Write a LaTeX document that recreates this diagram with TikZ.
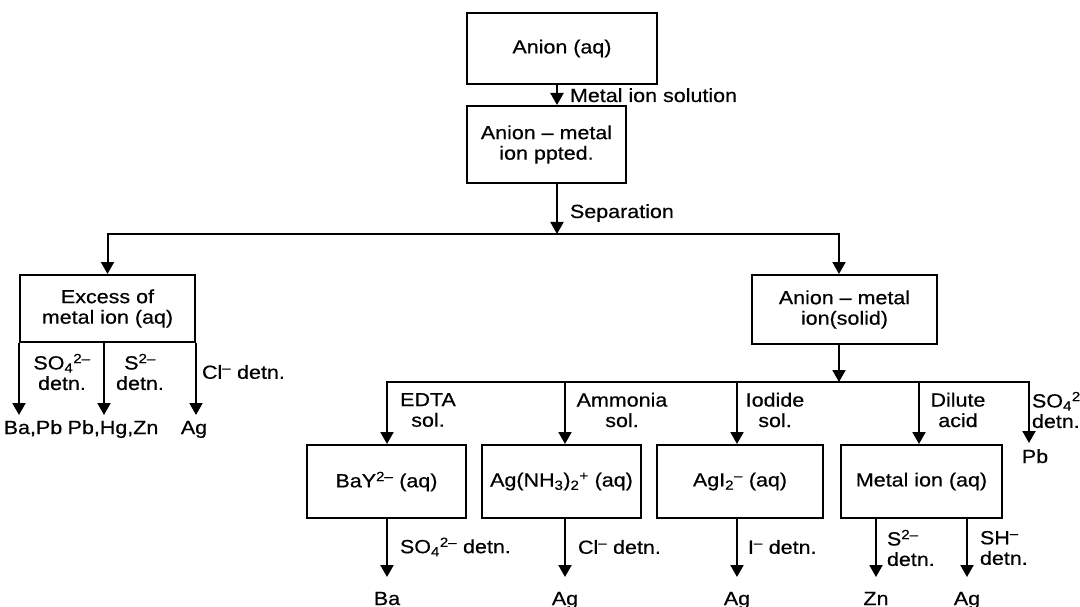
\documentclass[tikz,border=0pt]{standalone}
\usepackage{fontspec}
\setmainfont{Liberation Sans}[FakeStretch=1.13,FakeBold=0.5]
\usetikzlibrary{arrows.meta}
\newcommand{\lblfont}{\fontsize{19}{20.5}\selectfont}
\newcommand{\mn}{\textendash}
\begin{document}
\begin{tikzpicture}[x=1pt,y=-1pt,
  line/.style={line width=2pt,line cap=rect},
  arr/.style={line width=2pt,-{Triangle[width=13pt,length=12pt]}},
  box/.style={draw,line width=2pt,inner sep=0pt,align=center,font=\lblfont},
  lab/.style={inner sep=0pt,outer sep=0pt,font=\lblfont,align=center},
  res/.style={inner sep=0pt,outer sep=0pt,font=\lblfont,text height=13pt,text depth=4pt},
]
\useasboundingbox (0,0) rectangle (1080,607);
\clip (0,0) rectangle (1080,607);

% boxes
\node[box,minimum width=190pt,minimum height=71pt] (a) at (562,48.5) {Anion (aq)};
\node[box,minimum width=159pt,minimum height=77pt] (b) at (546.5,144.5) {Anion \mn{} metal\\ion ppted.};
\node[box,minimum width=175pt,minimum height=67pt] (L) at (107.5,308.5) {Excess of\\metal ion (aq)};
\node[box,minimum width=185pt,minimum height=69pt] (R) at (844.5,309.5) {Anion \mn{} metal\\ion(solid)};
\node[box,minimum width=159pt,minimum height=73pt] (c1) at (386.5,481.5) {BaY\textsuperscript{2\mn} (aq)};
\node[box,minimum width=159pt,minimum height=73pt] (c2) at (561.5,481.5) {Ag(NH\textsubscript{3})\textsubscript{2}\textsuperscript{+} (aq)};
\node[box,minimum width=166pt,minimum height=73pt] (c3) at (740,481.5) {AgI\textsubscript{2}\textsuperscript{\mn} (aq)};
\node[box,minimum width=161pt,minimum height=73pt] (c4) at (921.5,481.5) {Metal ion (aq)};

% top connectors
\coordinate (j1) at (557,234);
\coordinate (jL) at (107.5,234);
\coordinate (jR) at (839,234);
\draw[arr] ([xshift=-5pt]a.south) -- ([xshift=-5pt]a.south |- b.north);
\draw[arr] (b.south -| j1) -- (j1);
\draw[line] (jL) -- (jR);
\draw[arr] (jL) -- (L.north);
\draw[arr] (jR) -- (jR |- R.north);
\node[lab,anchor=base west] (l1) at (570,102) {Metal ion solution};
\node[lab,anchor=base west] (l2) at (570,218) {Separation};

% left group
\node[lab] (l3) at (62,372) {SO\textsubscript{4}\textsuperscript{2\mn}\\detn.};
\node[lab] (l4) at (140,372) {S\textsuperscript{2\mn}\\detn.};
\node[lab,anchor=west] (l5) at (202,372) {Cl\textsuperscript{\mn} detn.};
\node[res] (r1) at (33,429.5) {Ba,Pb};
\node[res] (r2) at (113,429.5) {Pb,Hg,Zn};
\node[res] (r3) at (194,429.5) {Ag};
\draw[arr,shorten >=6pt] (L.south west) -- (L.south west |- r1.north);
\draw[arr,shorten >=6pt] ([xshift=-3.5pt]L.south) -- ([xshift=-3.5pt]L.south |- r2.north);
\draw[arr,shorten >=6pt] (L.south east) -- (L.south east |- r3.north);

% right group
\coordinate (k0) at (839,382);
\coordinate (k1) at (387,382);
\coordinate (k2) at (565,382);
\coordinate (k3) at (737,382);
\coordinate (k4) at (919,382);
\coordinate (k5) at (1029,382);
\draw[arr] (R.south -| k0) -- (k0);
\draw[line] (k1) -- (k5);
\draw[arr] (k1) -- (k1 |- c1.north);
\draw[arr] (k2) -- (k2 |- c2.north);
\draw[arr] (k3) -- (k3 |- c3.north);
\draw[arr] (k4) -- (k4 |- c4.north);
\node[res] (pb) at (1035,458.5) {Pb};
\draw[arr,shorten >=7pt] (k5) -- (k5 |- pb.north);
\node[lab] (m1) at (428,410) {EDTA\\sol.};
\node[lab] (m2) at (622,410) {Ammonia\\sol.};
\node[lab] (m3) at (775,410) {Iodide\\sol.};
\node[lab] (m4) at (958,410) {Dilute\\acid};
\node[lab,anchor=west,align=left] (m5) at (1032,410) {SO\textsubscript{4}\textsuperscript{2\mn}\\detn.};

% bottom
\node[lab,anchor=west] (n1) at (400,547) {SO\textsubscript{4}\textsuperscript{2\mn} detn.};
\node[lab,anchor=west] (n2) at (578,547) {Cl\textsuperscript{\mn} detn.};
\node[lab,anchor=west] (n3) at (748,547) {I\textsuperscript{\mn} detn.};
\node[lab,anchor=west,align=left] (n4) at (887,548) {S\textsuperscript{2\mn}\\detn.};
\node[lab,anchor=west,align=left] (n5) at (980,548) {SH\textsuperscript{\mn}\\detn.};
\node[res] (d1) at (387,600.5) {Ba};
\node[res] (d2) at (565,600.5) {Ag};
\node[res] (d3) at (737,600.5) {Ag};
\node[res] (d4) at (876,600.5) {Zn};
\node[res] (d5) at (967,600.5) {Ag};
\draw[arr,shorten >=15pt] (c1.south -| d1) -- (d1.north);
\draw[arr,shorten >=15pt] (c2.south -| d2) -- (d2.north);
\draw[arr,shorten >=15pt] (c3.south -| d3) -- (d3.north);
\draw[arr,shorten >=15pt] (c4.south -| d4) -- (d4.north);
\draw[arr,shorten >=15pt] (c4.south -| d5) -- (d5.north);
\end{tikzpicture}
\end{document}
